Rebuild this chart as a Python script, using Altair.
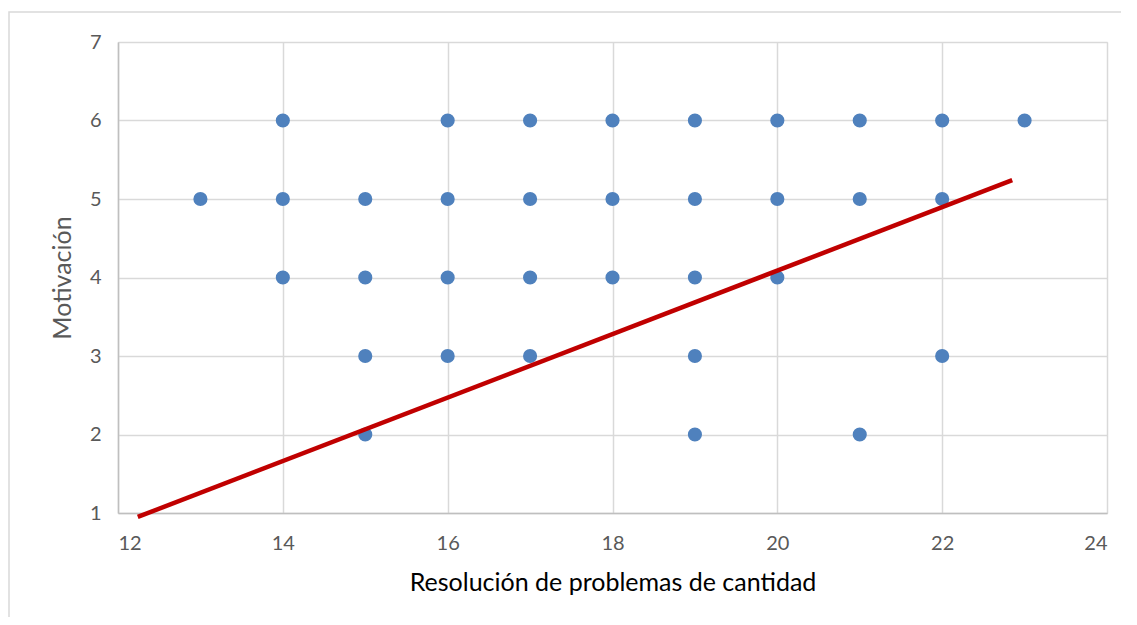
import altair as alt
import pandas as pd

# Scatter data: Resolución de problemas de cantidad (x) vs Motivación (y)
x_vals = [14, 16, 17, 18, 19, 20, 21, 22, 23,
          13, 14, 15, 16, 17, 18, 19, 20, 21, 22,
          14, 15, 16, 17, 18, 19, 20,
          15, 16, 17, 19, 22,
          15, 19, 21]
y_vals = [6, 6, 6, 6, 6, 6, 6, 6, 6,
          5, 5, 5, 5, 5, 5, 5, 5, 5, 5,
          4, 4, 4, 4, 4, 4, 4,
          3, 3, 3, 3, 3,
          2, 2, 2]

# Trend line endpoints
trend_x = [12.24, 22.85]
trend_y = [0.95, 5.24]

x_ticks = [12, 14, 16, 18, 20, 22, 24]
y_ticks = [1, 2, 3, 4, 5, 6, 7]

pts = pd.DataFrame({"x": x_vals, "y": y_vals})
trend = pd.DataFrame({"x": trend_x, "y": trend_y})
one = pd.DataFrame({"a": [0]})

FONT = "Lato"

xscale = alt.Scale(domain=[12, 24], nice=False, zero=False)
yscale = alt.Scale(domain=[1, 7], nice=False, zero=False)

xaxis = alt.Axis(values=x_ticks, format="d", title="Resolución de problemas de cantidad",
                 grid=True, gridColor="#d9d9d9", gridWidth=1.5,
                 domainColor="#bfbfbf", domainWidth=1.5, ticks=False,
                 labelFont=FONT, labelFontSize=20, labelColor="#595959",
                 labelPadding=20,
                 titleFont=FONT, titleFontSize=25, titleFontWeight="normal",
                 titleColor="#000000", titlePadding=17)
yaxis = alt.Axis(values=y_ticks, format="d", title="Motivación",
                 grid=True, gridColor="#d9d9d9", gridWidth=1.5,
                 domainColor="#bfbfbf", domainWidth=1.5, ticks=False,
                 labelFont=FONT, labelFontSize=20, labelColor="#595959",
                 labelPadding=17,
                 titleFont=FONT, titleFontSize=25, titleFontWeight="normal",
                 titleColor="#595959", titlePadding=14)

border = alt.Chart(one).mark_rect(fill=None, stroke="#d9d9d9", strokeWidth=1.5, clip=False).encode(
    x=alt.value(-109), x2=alt.value(1300), y=alt.value(-30), y2=alt.value(800)
)

points = alt.Chart(pts).mark_circle(size=200, color="#4f81bd", opacity=1).encode(
    x=alt.X("x:Q", scale=xscale, axis=xaxis),
    y=alt.Y("y:Q", scale=yscale, axis=yaxis),
)

line = alt.Chart(trend).mark_line(color="#c00000", strokeWidth=4.5, clip=False).encode(
    x=alt.X("x:Q", scale=xscale),
    y=alt.Y("y:Q", scale=yscale),
)

chart = alt.layer(border, points, line).properties(
    width=989, height=471,
    autosize=alt.AutoSizeParams(type="none"),
    padding={"left": 110, "top": 34, "right": 14, "bottom": 104},
).configure_view(stroke=None).configure(background="white")

chart.save("out.html", embed_options={"renderer": "svg", "actions": False})
